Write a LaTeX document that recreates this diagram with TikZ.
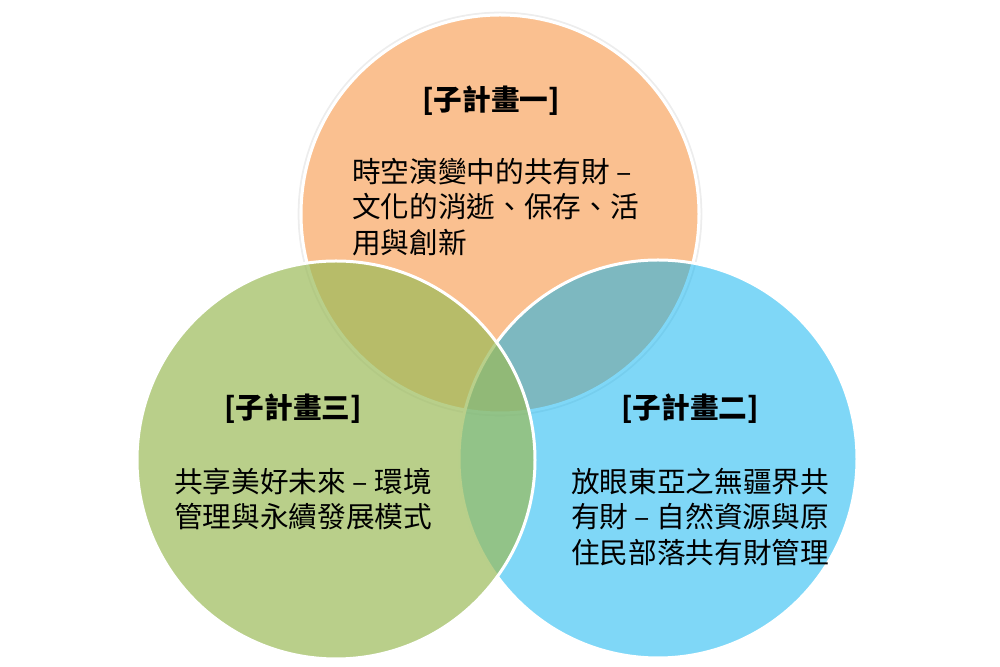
\documentclass[tikz,border=0pt]{standalone}
\usepackage{fontspec}
\newfontfamily\cjk{Noto Sans CJK TC}
\usetikzlibrary{positioning}
\definecolor{suborange}{HTML}{F79646}
\definecolor{subblue}{HTML}{00B0F0}
\definecolor{subgreen}{HTML}{9BBB59}

\begin{document}
\begin{tikzpicture}
  [x=0.75pt, y=0.75pt,
   disc/.style={circle, minimum size=298.5pt, draw=white, line width=2.25pt},
   halo/.style={circle, minimum size=302pt, draw=black!7, line width=1.5pt},
   title/.style={font=\cjk\bfseries\fontsize{21.5}{26}\selectfont, inner sep=0pt},
   body/.style={font=\cjk\fontsize{21.5}{26.5}\selectfont, align=left, anchor=north west, inner sep=0pt}]
  \useasboundingbox (0,0) rectangle (1000,667);
  % circles: one, two, three
  \node[halo] (shade_1) at (500,453) {};
  \node[disc, fill=suborange, fill opacity=0.6] (sub_1) at (500,453) {};
  \node[disc, fill=subblue, fill opacity=0.5] (sub_2) at (658,208) {};
  \node[disc, fill=subgreen, fill opacity=0.7] (sub_3) at (336,207) {};
  % labels
  \node[title] (t_1) at (491,566) {[子計畫一]};
  \node[body] (b_1) at (352,509) {時空演變中的共有財 –\\文化的消逝、保存、活\\用與創新};
  \node[title] (t_2) at (690,258) {[子計畫二]};
  \node[body] (b_2) at (571,199) {放眼東亞之無疆界共\\有財 – 自然資源與原\\住民部落共有財管理};
  \node[title] (t_3) at (293,258) {[子計畫三]};
  \node[body] (b_3) at (174,199) {共享美好未來 – 環境\\管理與永續發展模式};
\end{tikzpicture}
\end{document}
